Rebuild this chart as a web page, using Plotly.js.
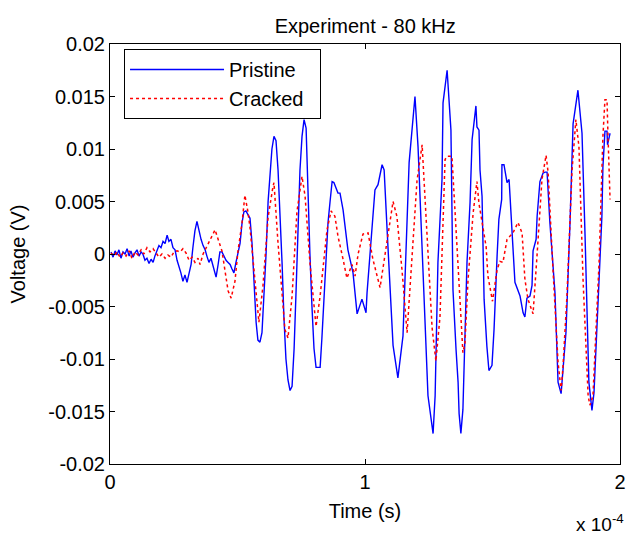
<!DOCTYPE html>
<html>
<head>
<meta charset="utf-8">
<script src="https://cdn.plot.ly/plotly-3.0.1.min.js"></script>
<style>html,body{margin:0;padding:0;background:#fff;}#chart{width:627px;height:535px;}</style>
</head>
<body>
<div id="chart"></div>
<script>
// time in units of 1e-4 s, voltage in V
var pristineT = [0.004,0.012,0.020,0.027,0.035,0.043,0.051,0.059,0.067,0.075,0.082,0.090,0.098,0.106,0.114,0.122,0.129,0.137,0.145,0.153,0.161,0.169,0.176,0.184,0.192,0.200,0.208,0.216,0.224,0.231,0.239,0.247,0.255,0.263,0.271,0.278,0.286,0.294,0.302,0.310,0.318,0.325,0.333,0.341,0.349,0.357,0.365,0.373,0.380,0.388,0.396,0.404,0.412,0.416,0.424,0.431,0.439,0.447,0.455,0.463,0.471,0.478,0.486,0.494,0.502,0.510,0.518,0.525,0.533,0.541,0.549,0.557,0.565,0.573,0.580,0.588,0.596,0.604,0.612,0.620,0.627,0.635,0.643,0.651,0.659,0.667,0.675,0.682,0.690,0.698,0.706,0.714,0.722,0.729,0.737,0.745,0.753,0.761,0.769,0.776,0.784,0.792,0.800,0.808,0.816,0.824,0.831,0.839,0.847,0.855,0.863,0.871,0.878,0.886,0.894,0.902,0.914,0.933,0.953,0.969,0.988,1.004,1.008,1.039,1.051,1.067,1.075,1.090,1.110,1.129,1.149,1.173,1.196,1.208,1.227,1.247,1.267,1.271,1.275,1.286,1.302,1.306,1.322,1.337,1.345,1.357,1.365,1.369,1.376,1.384,1.400,1.412,1.420,1.435,1.439,1.447,1.451,1.459,1.467,1.478,1.486,1.498,1.506,1.518,1.525,1.536,1.537,1.545,1.557,1.565,1.576,1.588,1.608,1.620,1.627,1.635,1.647,1.655,1.659,1.671,1.675,1.686,1.698,1.706,1.714,1.725,1.745,1.757,1.769,1.776,1.788,1.804,1.816,1.835,1.851,1.863,1.878,1.890,1.898,1.914,1.929,1.933,1.941,1.949,1.951,1.961];
var pristineV = [0.0002,-0.0003,0.0003,-0.0001,0.0004,-0.0004,0.0002,0.0000,0.0005,-0.0002,0.0003,-0.0003,0.0001,0.0004,-0.0002,0.0002,0.0000,-0.0006,-0.0004,-0.0009,-0.0005,-0.0008,-0.0002,0.0004,0.0008,0.0006,0.0012,0.0010,0.0018,0.0012,0.0014,0.0006,0.0004,-0.0006,-0.0012,-0.0018,-0.0026,-0.0020,-0.0027,-0.0018,-0.0010,0.0006,0.0022,0.0031,0.0022,0.0014,0.0008,0.0004,-0.0002,-0.0008,-0.0004,-0.0012,-0.0018,-0.0022,-0.0010,0.0002,0.0002,-0.0002,-0.0006,-0.0008,-0.0010,-0.0014,-0.0018,-0.0008,0.0000,0.0010,0.0030,0.0040,0.0041,0.0038,0.0034,0.0010,-0.0030,-0.0065,-0.0082,-0.0084,-0.0075,-0.0040,0.0000,0.0050,0.0070,0.0100,0.0112,0.0108,0.0080,0.0040,-0.0010,-0.0060,-0.0100,-0.0120,-0.0130,-0.0126,-0.0090,-0.0040,0.0020,0.0080,0.0112,0.0128,0.0120,0.0060,0.0000,-0.0050,-0.0090,-0.0108,-0.0108,-0.0108,-0.0080,-0.0040,0.0000,0.0030,0.0050,0.0069,0.0068,0.0063,0.0058,0.0058,0.0042,0.0004,-0.0018,-0.0057,-0.0043,-0.0056,-0.0037,0.0061,0.0066,0.0085,0.0080,0.0007,-0.0087,-0.0118,-0.0078,0.0087,0.0150,0.0102,-0.0008,-0.0135,-0.0171,-0.0143,-0.0135,-0.0008,0.0071,0.0144,0.0175,0.0118,-0.0034,-0.0091,-0.0122,-0.0152,-0.0171,-0.0148,-0.0008,0.0049,0.0109,0.0141,0.0121,0.0118,0.0080,0.0055,-0.0043,-0.0088,-0.0111,-0.0106,-0.0072,-0.0002,0.0033,0.0052,0.0085,0.0085,0.0068,0.0071,0.0023,-0.0027,-0.0040,-0.0056,-0.0060,-0.0042,-0.0040,-0.0030,0.0003,0.0014,0.0036,0.0069,0.0077,0.0078,0.0078,0.0030,-0.0037,-0.0122,-0.0133,-0.0113,-0.0075,0.0030,0.0124,0.0156,0.0115,0.0017,-0.0122,-0.0149,-0.0132,-0.0046,0.0036,0.0083,0.0117,0.0117,0.0104,0.0115];

var crackedT = [0.004,0.016,0.027,0.039,0.051,0.063,0.075,0.086,0.098,0.110,0.122,0.133,0.145,0.157,0.169,0.180,0.192,0.204,0.216,0.227,0.239,0.251,0.263,0.275,0.286,0.298,0.310,0.322,0.333,0.345,0.353,0.365,0.384,0.400,0.412,0.424,0.439,0.451,0.463,0.475,0.490,0.502,0.518,0.529,0.541,0.549,0.569,0.584,0.600,0.620,0.639,0.643,0.659,0.686,0.698,0.714,0.733,0.753,0.765,0.784,0.808,0.824,0.851,0.867,0.882,0.894,0.914,0.929,0.949,0.961,0.973,0.992,1.012,1.031,1.059,1.078,1.094,1.110,1.125,1.145,1.165,1.184,1.204,1.224,1.243,1.263,1.278,1.294,1.314,1.322,1.341,1.353,1.373,1.384,1.392,1.404,1.424,1.439,1.447,1.463,1.475,1.482,1.500,1.518,1.529,1.541,1.557,1.580,1.600,1.616,1.627,1.639,1.659,1.675,1.694,1.710,1.718,1.737,1.757,1.769,1.776,1.792,1.812,1.827,1.839,1.855,1.875,1.882,1.894,1.918,1.933,1.941,1.949,1.953,1.961];
var crackedV = [0.0001,-0.0002,0.0002,-0.0003,0.0001,-0.0002,0.0003,-0.0004,0.0002,-0.0001,0.0004,0.0000,0.0006,0.0002,0.0005,0.0001,-0.0003,0.0000,-0.0004,-0.0001,-0.0003,0.0002,0.0003,0.0002,0.0005,0.0001,-0.0006,-0.0003,-0.0008,-0.0004,-0.0010,0.0000,0.0009,0.0018,0.0023,0.0014,0.0003,-0.0016,-0.0035,-0.0042,-0.0026,0.0003,0.0030,0.0056,0.0040,0.0025,-0.0025,-0.0065,-0.0030,0.0035,0.0064,0.0068,0.0010,-0.0072,-0.0080,-0.0040,0.0040,0.0074,0.0055,-0.0008,-0.0069,-0.0040,0.0023,0.0041,0.0036,0.0017,-0.0005,-0.0023,-0.0010,-0.0021,0.0000,0.0019,0.0020,-0.0005,-0.0032,0.0000,0.0028,0.0050,0.0036,-0.0015,-0.0075,0.0000,0.0070,0.0104,0.0023,-0.0070,-0.0102,-0.0060,0.0090,0.0093,0.0093,0.0039,-0.0040,-0.0094,-0.0085,-0.0025,0.0039,0.0069,0.0048,0.0023,0.0007,-0.0021,-0.0045,-0.0015,-0.0007,-0.0008,0.0014,0.0020,0.0030,0.0020,-0.0024,-0.0043,-0.0057,0.0000,0.0071,0.0094,0.0078,-0.0014,-0.0103,-0.0130,-0.0109,-0.0040,0.0080,0.0128,0.0102,-0.0024,-0.0135,-0.0144,-0.0135,-0.0008,0.0112,0.0147,0.0147,0.0112,0.0052];

var seriesNames = ['Pristine\u00a0\u00a0', 'Cracked\u00a0\u00a0'];
var xTickVals = [0, 1, 2];
var xTickText = ['0', '1', '2'];
var yTickVals = [-0.02, -0.015, -0.01, -0.005, 0, 0.005, 0.01, 0.015, 0.02];
var yTickText = ['-0.02', '-0.015', '-0.01', '-0.005', '0', '0.005', '0.01', '0.015', '0.02'];

var FONT = 'Liberation Sans, Arial, sans-serif';

var traces = [
  {x: pristineT, y: pristineV, type: 'scatter', mode: 'lines', name: seriesNames[0],
   line: {color: '#0000ff', width: 1.4}},
  {x: crackedT, y: crackedV, type: 'scatter', mode: 'lines', name: seriesNames[1],
   line: {color: '#ff0000', width: 1.5, dash: 'dot'}}
];

var layout = {
  width: 627, height: 535,
  margin: {l: 110, r: 7, t: 44, b: 71, pad: 0},
  paper_bgcolor: '#fff', plot_bgcolor: '#fff',
  font: {family: FONT, size: 20, color: '#000'},
  title: {text: 'Experiment - 80 kHz', font: {family: FONT, size: 20, color: '#000'},
          x: 0.5825, xref: 'container', xanchor: 'center', y: 1 - 26/535, yref: 'container', yanchor: 'middle'},
  showlegend: true,
  legend: {x: 0.0275, y: 0.988, xanchor: 'left', yanchor: 'top', bgcolor: '#fff',
           bordercolor: '#000', borderwidth: 1, font: {family: FONT, size: 20, color: '#000'},
           itemwidth: 94, tracegroupgap: 0},
  xaxis: {range: [0, 2], tickvals: xTickVals, ticktext: xTickText, ticks: 'inside', ticklen: 5,
          tickcolor: '#000', showline: true, linecolor: '#000', linewidth: 1, mirror: 'ticks',
          showgrid: false, zeroline: false, tickfont: {family: FONT, size: 20, color: '#000'},
          title: {text: 'Time (s)', font: {family: FONT, size: 20, color: '#000'}, standoff: 11}},
  yaxis: {range: [-0.02, 0.02], tickvals: yTickVals, ticktext: yTickText, ticks: 'inside', ticklen: 5,
          tickcolor: '#000', showline: true, linecolor: '#000', linewidth: 1, mirror: 'ticks',
          showgrid: false, zeroline: false, tickfont: {family: FONT, size: 20, color: '#000'},
          title: {text: 'Voltage (V)', font: {family: FONT, size: 20, color: '#000'}, standoff: 17}},
  annotations: [
    {text: 'x 10<sup>-4</sup>', xref: 'paper', yref: 'paper', x: 1.012, y: -0.14,
     xanchor: 'right', yanchor: 'middle', showarrow: false, font: {family: FONT, size: 19, color: '#000'}}
  ]
};

Plotly.newPlot('chart', traces, layout, {staticPlot: true, displayModeBar: false});
</script>
</body>
</html>
